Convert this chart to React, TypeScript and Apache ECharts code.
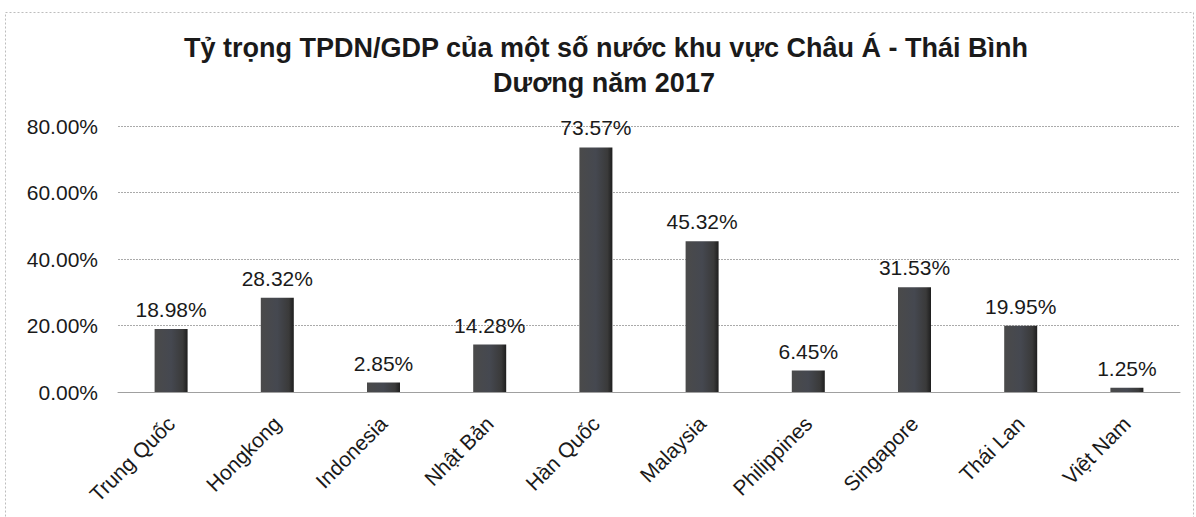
import React, { useEffect, useRef } from "react";
import * as echarts from "echarts";

const TITLE_LINE_1 = "Tỷ trọng TPDN/GDP của một số nước khu vực Châu Á - Thái Bình";
const TITLE_LINE_2 = "Dương năm 2017";
const categories = [
  "Trung Quốc",
  "Hongkong",
  "Indonesia",
  "Nhật Bản",
  "Hàn Quốc",
  "Malaysia",
  "Philippines",
  "Singapore",
  "Thái Lan",
  "Việt Nam",
];
const values = [18.98, 28.32, 2.85, 14.28, 73.57, 45.32, 6.45, 31.53, 19.95, 1.25];
const yTicks = { min: 0, max: 80, interval: 20 };

const FONT = "Liberation Sans, Arial, Helvetica, sans-serif";

export default function App() {
  const ref = useRef<HTMLDivElement>(null);
  useEffect(() => {
    if (!ref.current) return;
    const chart = echarts.init(ref.current, null, { renderer: "svg" });
    chart.setOption({
      animation: false,
      backgroundColor: "#ffffff",
      textStyle: { fontFamily: FONT },
      graphic: [
        {
          type: "rect",
          left: 3,
          top: 10,
          shape: { width: 1188, height: 520 },
          style: { fill: "none", stroke: "#bdbdbd", lineWidth: 1, lineDash: [2, 2] },
          silent: true,
        },
        {
          type: "text",
          x: 606,
          y: 48,
          silent: true,
          style: {
            text: TITLE_LINE_1,
            font: "bold 27px " + FONT,
            fill: "#1a1a1a",
            textAlign: "center",
            textVerticalAlign: "middle",
          },
        },
        {
          type: "text",
          x: 604,
          y: 83,
          silent: true,
          style: {
            text: TITLE_LINE_2,
            font: "bold 27px " + FONT,
            fill: "#1a1a1a",
            textAlign: "center",
            textVerticalAlign: "middle",
          },
        },
      ],
      grid: { left: 118, right: 16, top: 126, bottom: 125, containLabel: false },
      xAxis: {
        type: "category",
        data: categories,
        axisTick: { show: false },
        axisLine: { show: true, lineStyle: { color: "#a0a0a0", width: 1 } },
        axisLabel: {
          rotate: 45,
          margin: 28,
          fontSize: 21,
          color: "#1a1a1a",
          fontFamily: FONT,
          interval: 0,
        },
      },
      yAxis: {
        type: "value",
        min: yTicks.min,
        max: yTicks.max,
        interval: yTicks.interval,
        axisLine: { show: false },
        axisTick: { show: false },
        splitLine: { lineStyle: { color: "#aaaaaa", width: 1, type: [2, 1] } },
        axisLabel: {
          margin: 20,
          fontSize: 21,
          color: "#1a1a1a",
          fontFamily: FONT,
          formatter: (v: number) => v.toFixed(2) + "%",
        },
      },
      series: [
        {
          type: "bar",
          data: values,
          barWidth: 33,
          itemStyle: {
            color: new echarts.graphic.LinearGradient(0, 0, 1, 0, [
              { offset: 0, color: "#4a4a4a" },
              { offset: 0.5, color: "#454850" },
              { offset: 0.85, color: "#3a3a3a" },
              { offset: 1, color: "#1e1e1e" },
            ]),
          },
          label: {
            show: true,
            position: "top",
            distance: 9,
            fontSize: 21,
            color: "#1a1a1a",
            fontFamily: FONT,
            formatter: (p: any) => Number(p.value).toFixed(2) + "%",
          },
        },
      ],
    });
    return () => chart.dispose();
  }, []);
  return (
    <div
      ref={ref}
      style={{ position: "absolute", left: 0, top: 0, width: 1196, height: 517 }}
    />
  );
}
